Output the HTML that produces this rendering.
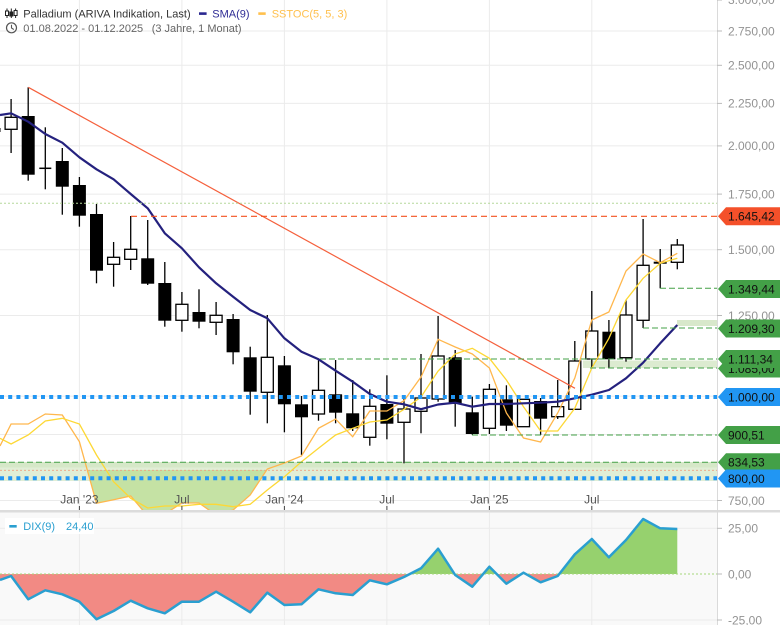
<!DOCTYPE html>
<html><head><meta charset="utf-8"><style>
html,body{margin:0;padding:0;background:#fff;}
svg{display:block;}
</style></head><body>
<svg width="780" height="625" xmlns="http://www.w3.org/2000/svg" font-family="Liberation Sans, Arial, sans-serif">
<defs>
<clipPath id="pp"><rect x="0" y="0" width="717" height="510"/></clipPath>
<clipPath id="up"><rect x="0" y="512" width="717" height="62"/></clipPath>
<clipPath id="dn"><rect x="0" y="574" width="717" height="51"/></clipPath>
</defs>
<rect x="0" y="0" width="780" height="625" fill="#fff"/>
<rect x="0" y="512" width="717" height="113" fill="#f9f9f9"/>

<!-- gridlines -->
<g stroke="#ebebeb" stroke-width="1">
<line x1="0" y1="31" x2="717" y2="31"/><line x1="0" y1="65.3" x2="717" y2="65.3"/>
<line x1="0" y1="103.4" x2="717" y2="103.4"/><line x1="0" y1="145.9" x2="717" y2="145.9"/>
<line x1="0" y1="194.1" x2="717" y2="194.1"/><line x1="0" y1="249.7" x2="717" y2="249.7"/>
<line x1="0" y1="315.5" x2="717" y2="315.5"/><line x1="0" y1="396.1" x2="717" y2="396.1"/>
<line x1="0" y1="434.5" x2="717" y2="434.5"/><line x1="0" y1="500.5" x2="717" y2="500.5"/>
<line x1="0" y1="528.3" x2="717" y2="528.3"/><line x1="0" y1="620" x2="717" y2="620"/>
<line x1="79.4" y1="0" x2="79.4" y2="625"/><line x1="181.9" y1="0" x2="181.9" y2="625"/>
<line x1="284.4" y1="0" x2="284.4" y2="625"/><line x1="386.9" y1="0" x2="386.9" y2="625"/>
<line x1="489.4" y1="0" x2="489.4" y2="625"/><line x1="591.8" y1="0" x2="591.8" y2="625"/>
</g>

<!-- zones -->
<rect x="0" y="462" width="717" height="19" fill="#e1eed6"/>
<rect x="0" y="462" width="717" height="5.5" fill="#d6e8c8"/>
<rect x="583" y="360.5" width="134" height="7.5" fill="#dcebd0"/>
<rect x="677" y="320" width="40" height="6" fill="#d8e8cb"/>

<g clip-path="url(#pp)">
<!-- stoch fill -->
<polygon points="87.26,470 96.5,503.3 113.6,499.7 130.7,496 147.7,516 164.8,514 181.9,503 199,503 216.1,515 233.1,510 250.2,495 266.65,470" fill="#c5e2a4"/>

<!-- candles -->
<g stroke="#000" stroke-width="1.3">
<rect x="-12.5" y="128" width="13" height="4" fill="#000" stroke="none"/>
<line x1="11.1" y1="99" x2="11.1" y2="153"/><rect x="5.1" y="117.3" width="12" height="12" fill="#fff"/>
<line x1="28.2" y1="87.3" x2="28.2" y2="180.7"/><rect x="21.7" y="116" width="13" height="58.7" fill="#000" stroke="none"/>
<line x1="45.3" y1="127.3" x2="45.3" y2="189.3"/><line x1="39.3" y1="168.3" x2="51.3" y2="168.3" stroke-width="1.5"/>
<line x1="62.3" y1="148" x2="62.3" y2="214.7"/><rect x="55.8" y="161" width="13" height="25.7" fill="#000" stroke="none"/>
<line x1="79.4" y1="177" x2="79.4" y2="226.7"/><rect x="72.9" y="185" width="13" height="30.7" fill="#000" stroke="none"/>
<line x1="96.5" y1="204" x2="96.5" y2="283.3"/><rect x="90" y="214" width="13" height="56.7" fill="#000" stroke="none"/>
<line x1="113.6" y1="242" x2="113.6" y2="286.7"/><rect x="107.6" y="257.3" width="12" height="7" fill="#fff"/>
<line x1="130.7" y1="216" x2="130.7" y2="270"/><rect x="124.7" y="249.3" width="12" height="10" fill="#fff"/>
<line x1="147.7" y1="220" x2="147.7" y2="285"/><rect x="141.2" y="258.3" width="13" height="25.4" fill="#000" stroke="none"/>
<line x1="164.8" y1="262" x2="164.8" y2="326.7"/><rect x="158.3" y="283" width="13" height="37.7" fill="#000" stroke="none"/>
<line x1="181.9" y1="292" x2="181.9" y2="331.7"/><rect x="175.9" y="304.3" width="12" height="16" fill="#fff"/>
<line x1="199" y1="289.3" x2="199" y2="328.3"/><rect x="192.5" y="312" width="13" height="9.7" fill="#000" stroke="none"/>
<line x1="216.1" y1="302" x2="216.1" y2="335"/><rect x="210.1" y="315.3" width="12" height="7" fill="#fff"/>
<line x1="233.1" y1="314" x2="233.1" y2="364.3"/><rect x="226.6" y="319" width="13" height="33.3" fill="#000" stroke="none"/>
<line x1="250.2" y1="346.7" x2="250.2" y2="414.7"/><rect x="243.7" y="357.3" width="13" height="34.4" fill="#000" stroke="none"/>
<line x1="267.3" y1="315" x2="267.3" y2="423.3"/><rect x="261.3" y="357.3" width="12" height="35" fill="#fff"/>
<line x1="284.4" y1="356" x2="284.4" y2="432.3"/><rect x="277.9" y="365.3" width="13" height="39" fill="#000" stroke="none"/>
<line x1="301.5" y1="396" x2="301.5" y2="455"/><rect x="295" y="404.3" width="13" height="13" fill="#000" stroke="none"/>
<line x1="318.5" y1="359.3" x2="318.5" y2="420.7"/><rect x="312.5" y="390.3" width="12" height="23.7" fill="#fff"/>
<line x1="335.6" y1="360" x2="335.6" y2="423.3"/><rect x="329.1" y="394.3" width="13" height="18.4" fill="#000" stroke="none"/>
<line x1="352.7" y1="380" x2="352.7" y2="431"/><rect x="346.2" y="413.3" width="13" height="15" fill="#000" stroke="none"/>
<line x1="369.8" y1="389.3" x2="369.8" y2="445.7"/><rect x="363.8" y="406.3" width="12" height="31" fill="#fff"/>
<line x1="386.9" y1="375.3" x2="386.9" y2="439.3"/><rect x="380.4" y="404" width="13" height="19.7" fill="#000" stroke="none"/>
<line x1="404" y1="398" x2="404" y2="463.3"/><rect x="398" y="409" width="12" height="13.3" fill="#fff"/>
<line x1="421" y1="354" x2="421" y2="433.3"/><rect x="415" y="398" width="12" height="13.3" fill="#fff"/>
<line x1="438.1" y1="316" x2="438.1" y2="401.7"/><rect x="432.1" y="356" width="12" height="43" fill="#fff"/>
<line x1="455.2" y1="350" x2="455.2" y2="426.7"/><rect x="448.7" y="357.3" width="13" height="46.7" fill="#000" stroke="none"/>
<line x1="472.3" y1="396.7" x2="472.3" y2="434.7"/><rect x="465.8" y="412.3" width="13" height="21.7" fill="#000" stroke="none"/>
<line x1="489.4" y1="384" x2="489.4" y2="434"/><rect x="483.4" y="389.3" width="12" height="39" fill="#fff"/>
<line x1="506.4" y1="385.3" x2="506.4" y2="431"/><rect x="499.9" y="399.3" width="13" height="26.4" fill="#000" stroke="none"/>
<line x1="523.5" y1="399" x2="523.5" y2="427"/><rect x="517.5" y="399.3" width="12" height="27.4" fill="#fff"/>
<line x1="540.6" y1="398" x2="540.6" y2="435"/><rect x="534.1" y="401" width="13" height="17.7" fill="#000" stroke="none"/>
<line x1="557.7" y1="380" x2="557.7" y2="419"/><rect x="551.7" y="406.7" width="12" height="10" fill="#fff"/>
<line x1="574.8" y1="341" x2="574.8" y2="409.3"/><rect x="568.8" y="361" width="12" height="48.3" fill="#fff"/>
<line x1="591.8" y1="291" x2="591.8" y2="367.3"/><rect x="585.8" y="331" width="12" height="28" fill="#fff"/>
<line x1="608.9" y1="320" x2="608.9" y2="368.3"/><rect x="602.4" y="331.7" width="13" height="27.6" fill="#000" stroke="none"/>
<line x1="626" y1="300" x2="626" y2="361.7"/><rect x="620" y="315" width="12" height="42.7" fill="#fff"/>
<line x1="643.1" y1="219" x2="643.1" y2="328"/><rect x="637.1" y="265.3" width="12" height="55" fill="#fff"/>
<line x1="660.2" y1="249" x2="660.2" y2="288.3"/><rect x="653.7" y="261.7" width="13" height="2" fill="#000" stroke="none"/>
<line x1="677.3" y1="239" x2="677.3" y2="269.3"/><rect x="671.3" y="245" width="12" height="17.3" fill="#fff"/>
</g>

<!-- stoch lines -->
<polyline fill="none" stroke="#ffb74d" stroke-width="1.3" points="0,446 11.1,424 28.2,424 45.3,414 62.3,415 79.4,441.7 96.5,503.3 113.6,499.7 130.7,496 147.7,516 164.8,514 181.9,503 199,503 216.1,515 233.1,510 250.2,495 267.3,469 284.4,463 301.5,456 318.5,428.3 335.6,419 352.7,436.7 369.8,411 386.9,411 404,400.7 421,377 438.1,339.3 455.2,347 472.3,354 489.4,368 506.4,413 523.5,438 540.6,442 557.7,413 574.8,378 591.8,320 608.9,312 626,271 643.1,254 660.2,262.7 677.3,253.3"/>
<polyline fill="none" stroke="#fdd835" stroke-width="1.3" points="0,438.3 11.1,444 28.2,435 45.3,421 62.3,418.3 79.4,424 96.5,455 113.6,481.7 130.7,498.3 147.7,508 164.8,506 181.9,506 199,504.3 216.1,504.3 233.1,506.7 250.2,504.3 267.3,490 284.4,476.7 301.5,461.7 318.5,448.3 335.6,435 352.7,428.3 369.8,422 386.9,420 404,409.3 421,397 438.1,371 455.2,354 472.3,348.3 489.4,358.3 506.4,380 523.5,406.7 540.6,431 557.7,431 574.8,408.3 591.8,368 608.9,338.3 626,300 643.1,278.3 660.2,263.3 677.3,258.3"/>

<!-- SMA -->
<polyline fill="none" stroke="#24217e" stroke-width="2.2" stroke-linejoin="round" points="0,115 11.1,113.3 28.2,121.7 45.3,134 62.3,142.7 79.4,157.3 96.5,169.3 113.6,179.3 130.7,194 147.7,208.3 164.8,233.3 181.9,248.3 199,267.3 216.1,283.3 233.1,296.7 250.2,310 267.3,318.3 284.4,338.3 301.5,351.7 318.5,359.3 335.6,370.7 352.7,381.7 369.8,394 386.9,401.7 404,404.3 421,409.2 438.1,404.5 455.2,402.7 472.3,406.7 489.4,404 506.4,404 523.5,403.3 540.6,402.7 557.7,401.7 574.8,398.3 591.8,394.7 608.9,390 626,378.3 643.1,362.7 660.2,343.3 677.3,325"/>

<!-- trendline -->
<line x1="28.3" y1="87.3" x2="575" y2="388.3" stroke="#f5603c" stroke-width="1.2"/>

<!-- horizontal lines -->
<line x1="0" y1="203.3" x2="717" y2="203.3" stroke="#b6d89c" stroke-width="1" stroke-dasharray="2 2"/>
<line x1="131" y1="216.3" x2="717" y2="216.3" stroke="#f4511e" stroke-width="1.2" stroke-dasharray="6 4"/>
<line x1="660" y1="288.3" x2="717" y2="288.3" stroke="#43a047" stroke-width="1" stroke-dasharray="6 3"/>
<line x1="643" y1="328" x2="717" y2="328" stroke="#43a047" stroke-width="1" stroke-dasharray="6 3"/>
<line x1="320" y1="359" x2="717" y2="359" stroke="#43a047" stroke-width="1" stroke-dasharray="6 3"/>
<line x1="590" y1="368" x2="717" y2="368" stroke="#43a047" stroke-width="1" stroke-dasharray="6 3"/>
<line x1="472" y1="435" x2="717" y2="435" stroke="#43a047" stroke-width="1" stroke-dasharray="6 3"/>
<line x1="0" y1="462.3" x2="717" y2="462.3" stroke="#43a047" stroke-width="1" stroke-dasharray="6 3"/>
<line x1="0" y1="470.3" x2="717" y2="470.3" stroke="#f0a080" stroke-width="0.8" stroke-dasharray="2 2"/>
<line x1="0" y1="397" x2="717" y2="397" stroke="#2196f3" stroke-width="4" stroke-dasharray="4 4.2"/>
<line x1="0" y1="478.3" x2="717" y2="478.3" stroke="#2196f3" stroke-width="4" stroke-dasharray="4 4.2"/>
</g>

<!-- x-axis labels & ticks -->
<g font-size="12" fill="#555" text-anchor="middle">
<text x="79.4" y="503.5">Jan '23</text><text x="181.9" y="503.5">Jul</text>
<text x="284.4" y="503.5">Jan '24</text><text x="386.9" y="503.5">Jul</text>
<text x="489.4" y="503.5">Jan '25</text><text x="591.8" y="503.5">Jul</text>
</g>
<g stroke="#444" stroke-width="1">
<line x1="79.4" y1="506" x2="79.4" y2="510"/><line x1="181.9" y1="506" x2="181.9" y2="510"/>
<line x1="284.4" y1="506" x2="284.4" y2="510"/><line x1="386.9" y1="506" x2="386.9" y2="510"/>
<line x1="489.4" y1="506" x2="489.4" y2="510"/><line x1="591.8" y1="506" x2="591.8" y2="510"/>
</g>

<!-- separator -->
<rect x="0" y="510" width="780" height="2.5" fill="#dcdcdc"/>

<!-- DIX panel -->
<polygon clip-path="url(#up)" fill="#96d16e" points="0,580 11.1,576 28.2,599.3 45.3,590.3 62.3,594.3 79.4,601.7 96.5,619.3 113.6,611 130.7,600.7 147.7,608.3 164.8,613.3 181.9,601.7 199,601.7 216.1,591.7 233.1,601.7 250.2,612.3 267.3,592.7 284.4,605 301.5,604.3 318.5,589.3 335.6,593.3 352.7,595 369.8,580.3 386.9,584.3 404,577 421,568.3 438.1,548.7 455.2,575 472.3,586.7 489.4,566.7 506.4,583.7 523.5,572.7 540.6,582.3 557.7,576 574.8,554.3 591.8,539 608.9,557.3 626,540 643.1,519 660.2,528.3 677.3,529 677.3,574 0,574"/>
<polygon clip-path="url(#dn)" fill="#f28a84" points="0,580 11.1,576 28.2,599.3 45.3,590.3 62.3,594.3 79.4,601.7 96.5,619.3 113.6,611 130.7,600.7 147.7,608.3 164.8,613.3 181.9,601.7 199,601.7 216.1,591.7 233.1,601.7 250.2,612.3 267.3,592.7 284.4,605 301.5,604.3 318.5,589.3 335.6,593.3 352.7,595 369.8,580.3 386.9,584.3 404,577 421,568.3 438.1,548.7 455.2,575 472.3,586.7 489.4,566.7 506.4,583.7 523.5,572.7 540.6,582.3 557.7,576 574.8,554.3 591.8,539 608.9,557.3 626,540 643.1,519 660.2,528.3 677.3,529 677.3,574 0,574"/>
<line x1="0" y1="574" x2="717" y2="574" stroke="#a5d67a" stroke-width="1" stroke-dasharray="2 2"/>
<polyline fill="none" stroke="#2a9fd0" stroke-width="2.5" stroke-linejoin="round" points="0,580 11.1,576 28.2,599.3 45.3,590.3 62.3,594.3 79.4,601.7 96.5,619.3 113.6,611 130.7,600.7 147.7,608.3 164.8,613.3 181.9,601.7 199,601.7 216.1,591.7 233.1,601.7 250.2,612.3 267.3,592.7 284.4,605 301.5,604.3 318.5,589.3 335.6,593.3 352.7,595 369.8,580.3 386.9,584.3 404,577 421,568.3 438.1,548.7 455.2,575 472.3,586.7 489.4,566.7 506.4,583.7 523.5,572.7 540.6,582.3 557.7,576 574.8,554.3 591.8,539 608.9,557.3 626,540 643.1,519 660.2,528.3 677.3,529"/>
<rect x="5" y="518" width="89" height="16" fill="#fff"/>
<rect x="9.3" y="525" width="7.4" height="2.6" fill="#2a9fd0"/>
<text x="23.3" y="530" font-size="11" fill="#2a9fd0">DIX(9)</text>
<text x="66" y="530" font-size="11" fill="#2a9fd0">24,40</text>

<!-- right axis -->
<line x1="717.5" y1="0" x2="717.5" y2="625" stroke="#dadada" stroke-width="1"/>
<g stroke="#bbb" stroke-width="1">
<line x1="717" y1="0" x2="722" y2="0"/><line x1="717" y1="31" x2="722" y2="31"/>
<line x1="717" y1="65.3" x2="722" y2="65.3"/><line x1="717" y1="103.4" x2="722" y2="103.4"/>
<line x1="717" y1="145.9" x2="722" y2="145.9"/><line x1="717" y1="194.1" x2="722" y2="194.1"/>
<line x1="717" y1="249.7" x2="722" y2="249.7"/><line x1="717" y1="315.5" x2="722" y2="315.5"/>
<line x1="717" y1="500.5" x2="722" y2="500.5"/>
<line x1="717" y1="528.3" x2="722" y2="528.3"/><line x1="717" y1="574" x2="722" y2="574"/>
<line x1="717" y1="620" x2="722" y2="620"/>
</g>
<g font-size="12" fill="#939393">
<text x="728" y="3.8">3.000,00</text>
<text x="728" y="35.3">2.750,00</text>
<text x="728" y="69.6">2.500,00</text>
<text x="728" y="107.7">2.250,00</text>
<text x="728" y="150.2">2.000,00</text>
<text x="728" y="198.4">1.750,00</text>
<text x="728" y="254">1.500,00</text>
<text x="728" y="319.8">1.250,00</text>
<text x="728" y="504.8">750,00</text>
<text x="728" y="532.6">25,00</text>
<text x="728" y="578.3">0,00</text>
<text x="728" y="624.3">-25,00</text>
</g>

<!-- price labels -->
<g font-size="12" fill="#111">
<polygon points="718,216.3 726,207.3 780,207.3 780,225.3 726,225.3" fill="#f4502a"/>
<text x="728" y="220.6">1.645,42</text>
<polygon points="718,289 726,280 780,280 780,298 726,298" fill="#43a047"/>
<text x="728" y="293.3">1.349,44</text>
<polygon points="718,328.5 726,319.5 780,319.5 780,337.5 726,337.5" fill="#43a047"/>
<text x="728" y="332.8">1.209,30</text>
<polygon points="718,368.5 726,359.5 780,359.5 780,377.5 726,377.5" fill="#43a047"/>
<text x="728" y="372.8">1.085,00</text>
<polygon points="718,359 726,350 780,350 780,368 726,368" fill="#43a047"/>
<text x="728" y="363.3">1.111,34</text>
<polygon points="718,397 726,388 780,388 780,406 726,406" fill="#2196f3"/>
<text x="728" y="401.3">1.000,00</text>
<polygon points="718,435 726,426 780,426 780,444 726,444" fill="#43a047"/>
<text x="728" y="439.3">900,51</text>
<polygon points="718,462.3 726,453.3 780,453.3 780,471.3 726,471.3" fill="#43a047"/>
<text x="728" y="466.6">834,53</text>
<polygon points="718,478.5 726,469.5 780,469.5 780,487.5 726,487.5" fill="#2196f3"/>
<text x="728" y="482.8">800,00</text>
</g>

<!-- legend -->
<g stroke="#222" stroke-width="1" fill="none">
<line x1="7" y1="8.5" x2="7" y2="18"/><rect x="5.5" y="11" width="3" height="4.5" fill="#fff"/>
<line x1="11.3" y1="8.5" x2="11.3" y2="18"/><rect x="9.8" y="12" width="3" height="4" fill="#222"/>
<line x1="15.6" y1="8.5" x2="15.6" y2="18"/><rect x="14.1" y="10.5" width="3" height="5" fill="#fff"/>
</g>
<text x="23.3" y="17.3" font-size="11" fill="#333">Palladium (ARIVA Indikation, Last)</text>
<rect x="199" y="12.3" width="7.6" height="2.6" fill="#2a2790"/>
<text x="212.3" y="17.3" font-size="11" fill="#2e2b95">SMA(9)</text>
<rect x="258.3" y="12.3" width="7.4" height="2.6" fill="#ffc04d"/>
<text x="271.7" y="17.3" font-size="11" fill="#ffc04d">SSTOC(5, 5, 3)</text>
<circle cx="11.5" cy="27.8" r="5" fill="none" stroke="#555" stroke-width="1.2"/>
<polyline points="11.5,24.8 11.5,28 13.8,29.5" fill="none" stroke="#555" stroke-width="1.1"/>
<text x="23.3" y="31.8" font-size="11" fill="#666">01.08.2022 - 01.12.2025</text>
<text x="151.7" y="31.8" font-size="11" fill="#666">(3 Jahre, 1 Monat)</text>
</svg>
</body></html>
